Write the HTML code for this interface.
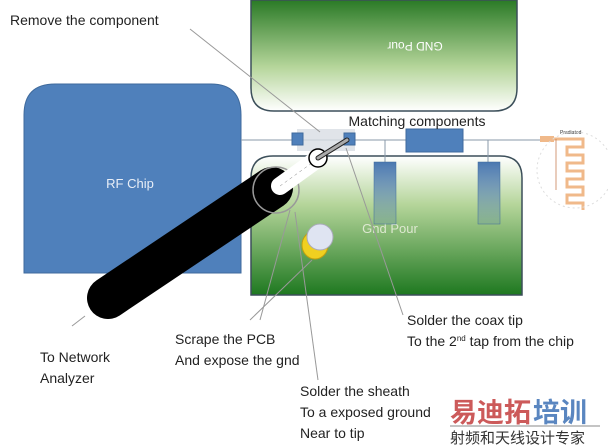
<!DOCTYPE html>
<html><head><meta charset="utf-8"><style>
html,body{margin:0;padding:0;background:#fff;}
svg{display:block}
text{font-family:"Liberation Sans","Noto Sans CJK SC",sans-serif;}
</style></head><body>
<svg width="608" height="446" viewBox="0 0 608 446" xmlns="http://www.w3.org/2000/svg">
<defs>
<linearGradient id="gt" x1="0" y1="0" x2="0" y2="1">
<stop offset="0" stop-color="#2a7a26"/><stop offset="0.6" stop-color="#b5d59a"/><stop offset="1" stop-color="#ffffff"/></linearGradient>
<linearGradient id="gb" x1="0" y1="0" x2="0" y2="1">
<stop offset="0" stop-color="#ffffff"/><stop offset="0.35" stop-color="#b5d59a"/><stop offset="1" stop-color="#1e7820"/></linearGradient>
<linearGradient id="gs" x1="0" y1="0" x2="0" y2="1">
<stop offset="0" stop-color="#4a78b0"/><stop offset="1" stop-color="#4a78b0" stop-opacity="0.2"/></linearGradient>
</defs>
<path d="M251,0 H517 V88 Q517,111 494,111 H274 Q251,111 251,88 Z" fill="url(#gt)" stroke="#3c4f5a" stroke-width="1.5"/>
<text x="415" y="50" font-size="12" fill="#fff" text-anchor="middle" transform="rotate(180 415 46)">GND Pour</text>
<path d="M24,273 V115 Q24,84 55,84 H211 Q241,84 241,115 V273 Z" fill="#4f80bb" stroke="#3f6a9c" stroke-width="1"/>
<text x="130" y="188" font-size="13" fill="#e8eef7" text-anchor="middle">RF  Chip</text>
<path d="M251,295 V178 Q251,156 273,156 H500 Q522,156 522,178 V295 Z" fill="url(#gb)" stroke="#3c4f5a" stroke-width="1.5"/>
<text x="390" y="233" font-size="13" fill="#dde8d0" text-anchor="middle">Gnd Pour</text>
<line x1="241" y1="140" x2="545" y2="140" stroke="#8a99a8" stroke-width="1"/>
<line x1="385" y1="140" x2="385" y2="162" stroke="#8a99a8"/>
<line x1="488" y1="140" x2="488" y2="162" stroke="#8a99a8"/>
<rect x="374" y="162" width="22" height="62" fill="url(#gs)" stroke="#3f6a9c" stroke-width="0.5"/>
<rect x="478" y="162" width="22" height="62" fill="url(#gs)" stroke="#3f6a9c" stroke-width="0.5"/>
<rect x="297" y="129" width="58" height="22" fill="#d8dde4" opacity="0.8"/>
<rect x="292" y="133" width="11" height="12" fill="#4f80bb" stroke="#3f6a9c"/>
<rect x="344" y="133" width="11" height="12" fill="#4f80bb" stroke="#3f6a9c"/>
<rect x="406" y="129" width="57" height="23" fill="#4f80bb" stroke="#3f6a9c"/>
<text x="417" y="126" font-size="14" fill="#222" text-anchor="middle">Matching components</text>
<rect x="540" y="136" width="14" height="6" fill="#f0b98a"/>
<path d="M554,139 H583 V147 H567 V155 H583 V163 H567 V171 H583 V179 H567 V187 H583 V195 H567 V203 H583 V210" fill="none" stroke="#f0b98a" stroke-width="3"/>
<line x1="556" y1="139" x2="556" y2="190" stroke="#c07040" stroke-width="0.7"/>
<text x="560" y="134" font-size="5" fill="#333">Pradiated</text>
<circle cx="575" cy="170" r="38" fill="none" stroke="#ddd" stroke-dasharray="2 3"/>
<line x1="190" y1="29" x2="320" y2="132" stroke="#999" stroke-width="1"/>
<line x1="346" y1="148" x2="403" y2="315" stroke="#999" stroke-width="1"/>
<line x1="290" y1="210" x2="260" y2="320" stroke="#999" stroke-width="1"/>
<line x1="312" y1="260" x2="250" y2="320" stroke="#999" stroke-width="1"/>
<line x1="295" y1="212" x2="318" y2="380" stroke="#999" stroke-width="1"/>
<line x1="85" y1="316" x2="72" y2="326" stroke="#999" stroke-width="1"/>
<ellipse cx="315" cy="245" rx="13" ry="14" fill="#f0d020" stroke="#c0a010"/>
<circle cx="320" cy="237" r="13" fill="#dfe4f2" stroke="#aab"/>
<line x1="108" y1="298" x2="272" y2="188" stroke="#000" stroke-width="42" stroke-linecap="round"/>
<circle cx="276" cy="190" r="23" fill="none" stroke="#999" stroke-width="1.5"/>
<line x1="280" y1="186" x2="316" y2="160" stroke="#fff" stroke-width="18" stroke-linecap="round"/>
<line x1="280" y1="186" x2="316" y2="160" stroke="#000" stroke-width="0.5" stroke-dasharray="3 3" opacity="0.5"/>
<circle cx="318" cy="158" r="9" fill="#fff" stroke="#000" stroke-width="1.5"/>
<line x1="318" y1="158" x2="347" y2="140" stroke="#222" stroke-width="5" stroke-linecap="round"/>
<line x1="318" y1="158" x2="347" y2="140" stroke="#aaa" stroke-width="3" stroke-linecap="round"/>
<g font-size="14" fill="#222">
<text x="10" y="25">Remove the component</text>
<text x="40" y="362">To Network</text>
<text x="40" y="383">Analyzer</text>
<text x="175" y="344">Scrape the PCB</text>
<text x="175" y="365">And expose the gnd</text>
<text x="407" y="325">Solder the coax tip</text>
<text x="407" y="346">To the 2<tspan font-size="8" dy="-5">nd</tspan><tspan dy="5"> tap from the chip</tspan></text>
<text x="300" y="396">Solder the sheath</text>
<text x="300" y="417">To a exposed ground</text>
<text x="300" y="438">Near to tip</text>
</g>
<text x="450" y="422" font-size="27" font-weight="bold" fill="#cc5a5a">易迪拓</text>
<text x="533" y="422" font-size="27" font-weight="bold" fill="#5a86c0">培训</text>
<line x1="450" y1="426" x2="600" y2="426" stroke="#888"/>
<text x="450" y="443" font-size="15" fill="#333">射频和天线设计专家</text>
</svg>
</body></html>
